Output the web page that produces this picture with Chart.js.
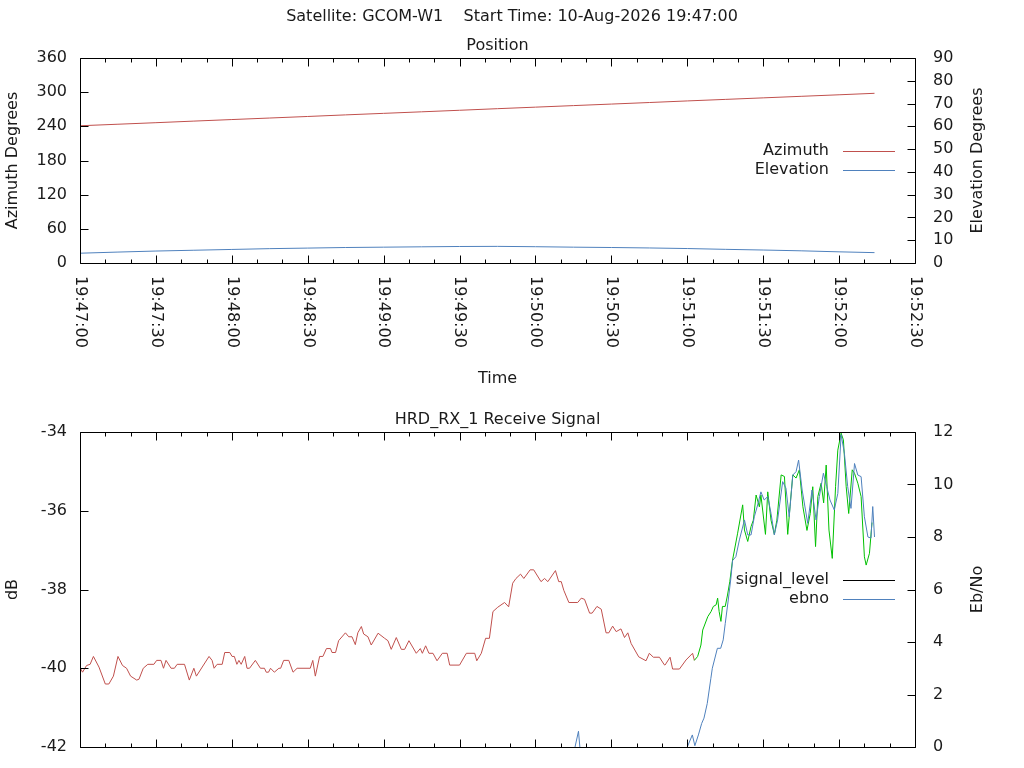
<!DOCTYPE html>
<html>
<head>
    <title>GCOM-W1 Pass Report</title>
    <script src="https://cdn.jsdelivr.net/npm/chart.js@4.4.1/dist/chart.umd.min.js"></script>
    <style>
        body {
            margin: 0;
            background: #fff;
        }
        canvas {
            position: absolute;
            left: 0;
        }
        #position { top: 0; }
        #signal { top: 400px; }
    </style>
</head>
<body>
    <canvas id="position" width="1024" height="400"></canvas>
    <canvas id="signal" width="1024" height="368"></canvas>

    <script>
        // time axis: seconds after 19:47:00, labelled every 30 s
        const timeTickLabels = ['19:47:00', '19:47:30', '19:48:00', '19:48:30', '19:49:00', '19:49:30',
                                '19:50:00', '19:50:30', '19:51:00', '19:51:30', '19:52:00', '19:52:30'];

        // Position panel
        const posTime = [0, 15, 30, 45, 60, 75, 90, 105, 120, 135, 150, 165, 180, 195, 210, 225, 240, 255, 270, 285, 300, 314];
        const azimuth = [241, 243.7, 246.4, 249.2, 251.9, 254.6, 257.3, 260.1, 262.8, 265.5, 268.2,
                         271, 273.7, 276.4, 279.1, 281.8, 284.6, 287.3, 290, 292.7, 295.4, 298];
        const elevation = [4.3, 4.8, 5.25, 5.6, 5.95, 6.3, 6.55, 6.8, 6.95, 7.1, 7.25,
                           7.3, 7.15, 6.95, 6.8, 6.6, 6.35, 6.0, 5.7, 5.35, 4.9, 4.55];

        // Receive signal panel: [seconds, dB]
        const signalLevel = [
            [0, -39.98], [1, -40.1], [2.6, -39.93], [4, -39.9], [5.3, -39.7], [7.5, -39.97], [10, -40.4], [11.4, -40.4],
            [13.2, -40.2], [15, -39.7], [16.8, -39.93], [18.4, -40.0], [20, -40.2], [22.4, -40.3], [23.3, -40.28], [25, -40.0],
            [26.8, -39.9], [29.2, -39.9], [30.3, -39.8], [32, -39.8], [33, -40.0], [34, -39.8], [36, -40.0], [37.3, -40.0],
            [38.4, -39.9], [41.3, -39.9], [43.2, -40.3], [45, -40.0], [46, -40.2], [51, -39.7], [52.2, -39.8], [53, -40.0],
            [54.2, -39.9], [56.2, -39.9], [57.2, -39.6], [59.2, -39.6], [60.1, -39.7], [61, -39.7], [62, -39.9], [62.8, -39.8],
            [63.7, -39.9], [65.1, -39.7], [66, -40.0], [67, -40.0], [69.3, -39.8], [71.3, -40.0], [72.9, -40.0], [73.6, -40.1],
            [74.5, -40.1], [75.3, -40.0], [76.8, -40.1], [78.6, -40.0], [79.3, -40.0], [80.5, -39.8], [82.5, -39.8], [84.2, -40.1],
            [85.8, -40.0], [91, -40.0], [92, -39.8], [93, -40.2], [94.7, -39.7], [96, -39.7], [97.4, -39.5], [99, -39.5],
            [99.6, -39.6], [101, -39.6], [102.2, -39.3], [104.9, -39.1], [106.2, -39.2], [107.5, -39.2], [108.8, -39.4], [109.8, -39.1],
            [111.2, -38.94], [112.1, -39.13], [113.8, -39.2], [115.1, -39.41], [117.8, -39.11], [120.4, -39.24], [121.7, -39.3], [123, -39.52],
            [125, -39.22], [127, -39.52], [128.3, -39.52], [130, -39.3], [132.9, -39.62], [134.5, -39.5], [135.3, -39.62], [136.6, -39.43],
            [137.9, -39.62], [139.5, -39.62], [141.1, -39.81], [143.2, -39.62], [145.1, -39.62], [146.1, -39.92], [150, -39.92], [152.7, -39.62],
            [156, -39.62], [156.8, -39.81], [158.6, -39.62], [160.3, -39.24], [161.8, -39.24], [163.2, -38.56], [165.1, -38.45], [167.8, -38.33],
            [169.4, -38.44], [171, -37.84], [172.3, -37.72], [174.1, -37.61], [175.4, -37.72], [177.9, -37.5], [179.3, -37.5], [182.2, -37.8],
            [183.6, -37.72], [184.9, -37.8], [187.9, -37.52], [189.2, -37.8], [190.2, -37.8], [191.2, -38.02], [193.2, -38.33], [196.7, -38.33],
            [198.1, -38.22], [199.4, -38.25], [201.4, -38.6], [202.4, -38.6], [204.3, -38.43], [206, -38.5], [207.9, -39.1], [209, -39.1],
            [210.5, -38.93], [211.9, -39.07], [213.8, -39.0], [215.2, -39.22], [216.5, -39.1], [217.8, -39.37], [220.8, -39.71], [223.7, -39.81],
            [225, -39.62], [226.6, -39.72], [229, -39.72], [230.9, -39.91], [231.2, -39.92], [233.2, -39.72], [234.2, -40.02], [236.9, -40.02],
            [239.5, -39.79], [242.1, -39.62], [242.8, -39.8], [244.1, -39.7], [245.4, -39.41], [246.1, -39.03], [248.1, -38.69], [249.4, -38.56],
            [250.3, -38.43], [251.4, -38.39], [252, -38.22], [252.6, -38.56], [253.3, -38.81], [253.9, -38.43], [255, -38.43], [255.9, -38.14],
            [256.8, -37.8], [257.9, -37.25], [259.9, -36.57], [261.9, -35.85], [262.6, -36.49], [263.9, -36.78], [265.2, -36.4], [266.1, -36.24],
            [267.2, -35.6], [268.5, -35.9], [269.1, -35.6], [270.9, -36.6], [271.8, -35.52], [273.1, -36.24], [274.4, -36.6], [275.4, -36.24],
            [277.1, -35.09], [278.4, -35.13], [279.7, -36.6], [280.6, -35.9], [281.7, -35.09], [283, -35.17], [284.3, -34.96], [285.7, -35.9],
            [287.3, -36.5], [288.6, -36.07], [289.6, -35.39], [290.7, -36.91], [291.6, -35.64], [292.9, -35.3], [293.9, -35.8], [294.9, -34.84],
            [296, -36.49], [297.3, -37.21], [298.6, -35.39], [299.5, -34.46], [300.8, -34.03], [301.7, -34.2], [302.8, -35.39], [303.8, -36.07],
            [305.2, -34.96], [306.1, -35.05], [307.4, -35.3], [308.7, -35.64], [310, -37.17], [310.7, -37.38], [312, -37.08], [313, -36.3]
        ];
        // carrier lock (line drawn green from here on)
        const LOCK_TIME = 242.8;

        // Eb/No: [seconds, value]; below 0 it is off the axis
        const ebno = [
            [0, -1.2], [40, -1.0], [80, -1.3], [120, -1.1], [160, -0.9], [194.5, -0.5], [197, 0.6], [198, -0.5],
            [239, -0.6], [240, 0], [242, 0.46], [243, 0.05], [244.4, 0.46], [245.7, 0.9], [246.6, 1.1], [247.9, 1.66],
            [249.3, 2.6], [249.9, 3.0], [251.9, 3.76], [253.2, 3.76], [254.2, 4.08], [255, 4.7], [256.2, 5.6], [257.2, 6.4],
            [257.9, 7.1], [259.2, 7.25], [260.6, 7.89], [262.6, 8.65], [263.9, 8.08], [265.2, 8.08], [266.5, 8.77], [267.8, 9.22],
            [269.1, 9.72], [270.4, 9.41], [271.8, 9.54], [273.1, 8.9], [274.4, 8.08], [275.7, 8.65], [277.7, 10.11], [279, 9.86],
            [280.3, 8.77], [281.7, 10.36], [283, 10.49], [284, 10.93], [285.4, 9.79], [287.6, 8.52], [289.3, 9.79], [290.9, 8.65],
            [292.2, 9.54], [293.8, 10.43], [295.1, 9.92], [296.4, 9.41], [298.1, 9.03], [299.5, 9.66], [300.8, 11.9], [302.1, 11.19],
            [303.4, 9.92], [304.7, 9.09], [306.1, 10.8], [307.4, 10.36], [308.7, 10.3], [310, 8.77], [311.4, 8.0], [312.6, 7.96],
            [313.3, 9.16], [314, 8.0]
        ];

        const RED = '#c0504d';
        const BLUE = '#4f81bd';
        const GREEN = '#00c000';
        const TEXT = '#1a1a1a';
        const FONT = "'DejaVu Sans', sans-serif";
        const FONT_SIZE = 16;

        Chart.defaults.font.family = FONT;
        Chart.defaults.font.size = FONT_SIZE;
        Chart.defaults.color = TEXT;

        // gnuplot look: boxed plot, inward ticks, rotated time labels, key on the right
        const gnuplotFrame = {
            id: 'gnuplotFrame',
            afterDatasetsDraw(chart, args, opts) {
                const { ctx, chartArea: a, scales } = chart;
                const L = Math.round(a.left) + 0.5, R = Math.round(a.right) + 0.5;
                const T = Math.round(a.top) + 0.5, B = Math.round(a.bottom) + 0.5;
                ctx.save();
                ctx.strokeStyle = '#000';
                ctx.lineWidth = 1;
                ctx.beginPath();
                ctx.rect(L, T, R - L, B - T);

                // x ticks on bottom and top, major every 30 s
                scales.x.ticks.forEach(t => {
                    const px = Math.round(scales.x.getPixelForValue(t.value)) + 0.5;
                    const len = t.value % 30 === 0 ? 8 : 4;
                    ctx.moveTo(px, B); ctx.lineTo(px, B - len);
                    ctx.moveTo(px, T); ctx.lineTo(px, T + len);
                });
                // y ticks pointing inwards
                ['y', 'y2'].forEach(id => {
                    const s = scales[id];
                    s.ticks.forEach(t => {
                        const py = Math.round(s.getPixelForValue(t.value)) + 0.5;
                        if (s.position === 'left') { ctx.moveTo(L, py); ctx.lineTo(L + 8, py); }
                        else { ctx.moveTo(R, py); ctx.lineTo(R - 8, py); }
                    });
                });
                ctx.stroke();

                ctx.fillStyle = TEXT;
                ctx.font = FONT_SIZE + 'px ' + FONT;
                ctx.textBaseline = 'middle';

                if (opts.timeLabels) {
                    ctx.textAlign = 'left';
                    scales.x.ticks.forEach(t => {
                        if (t.value % 30 !== 0) return;
                        ctx.save();
                        ctx.translate(scales.x.getPixelForValue(t.value), a.bottom + 13);
                        ctx.rotate(Math.PI / 2);
                        ctx.fillText(timeTickLabels[t.value / 30], 0, 0);
                        ctx.restore();
                    });
                }

                ctx.textAlign = 'center';
                const midX = (a.left + a.right) / 2, midY = (a.top + a.bottom) / 2;
                if (opts.mainTitle) ctx.fillText(opts.mainTitle, chart.width / 2, 17);
                ctx.fillText(opts.title, midX, a.top - 12);
                if (opts.xTitle) ctx.fillText(opts.xTitle, midX, a.bottom + 116);
                [[opts.yTitle, 13], [opts.y2Title, 978]].forEach(([text, x]) => {
                    ctx.save();
                    ctx.translate(x, midY);
                    ctx.rotate(-Math.PI / 2);
                    ctx.fillText(text, 0, 0);
                    ctx.restore();
                });

                // key
                ctx.textAlign = 'right';
                opts.key.items.forEach((item, i) => {
                    const y = opts.key.top + i * 19.5;
                    ctx.fillText(item.text, opts.key.right, y);
                    ctx.strokeStyle = item.color;
                    ctx.beginPath();
                    ctx.moveTo(opts.key.right + 14, Math.round(y) + 0.5);
                    ctx.lineTo(opts.key.right + 66, Math.round(y) + 0.5);
                    ctx.stroke();
                });
                ctx.restore();
            }
        };

        const hidden = { grid: { display: false, drawTicks: false }, border: { display: false } };

        const xScale = height => ({
            type: 'linear',
            min: 0,
            max: 330,
            ...hidden,
            ticks: { display: false, stepSize: 10 },
            afterFit: s => { s.height = height; }
        });

        // fixed axis widths; labels may overhang the plot edges like gnuplot's
        const yScale = (position, min, max, step) => ({
            type: 'linear',
            position: position,
            min: min,
            max: max,
            ...hidden,
            ticks: { stepSize: step, padding: position === 'left' ? 13 : 18 },
            afterFit: s => {
                s.width = position === 'left' ? 80 : 109;
                s.paddingTop = 0;
                s.paddingBottom = 0;
            }
        });

        const toPoints = (xs, ys) => xs.map((x, i) => ({ x: x, y: ys[i] }));
        const pairPoints = pairs => pairs.map(p => ({ x: p[0], y: p[1] }));

        new Chart(document.getElementById('position'), {
            type: 'line',
            data: {
                datasets: [
                    {
                        label: 'Azimuth',
                        data: toPoints(posTime, azimuth),
                        yAxisID: 'y',
                        borderColor: RED,
                        borderWidth: 1,
                        pointRadius: 0
                    },
                    {
                        label: 'Elevation',
                        data: toPoints(posTime, elevation),
                        yAxisID: 'y2',
                        borderColor: BLUE,
                        borderWidth: 1,
                        pointRadius: 0
                    }
                ]
            },
            options: {
                responsive: false,
                animation: false,
                layout: { padding: { top: 58, left: 0, right: 0, bottom: 0 } },
                plugins: {
                    legend: { display: false },
                    tooltip: { enabled: false },
                    gnuplotFrame: {
                        mainTitle: 'Satellite: GCOM-W1    Start Time: 10-Aug-2026 19:47:00',
                        title: 'Position',
                        xTitle: 'Time',
                        yTitle: 'Azimuth Degrees',
                        y2Title: 'Elevation Degrees',
                        timeLabels: true,
                        key: { right: 829, top: 150.5, items: [
                            { text: 'Azimuth', color: RED },
                            { text: 'Elevation', color: BLUE }
                        ] }
                    }
                },
                scales: {
                    x: xScale(137),
                    y: yScale('left', 0, 360, 60),
                    y2: yScale('right', 0, 90, 10)
                }
            },
            plugins: [gnuplotFrame]
        });

        new Chart(document.getElementById('signal'), {
            type: 'line',
            data: {
                datasets: [
                    {
                        label: 'signal_level',
                        data: pairPoints(signalLevel),
                        yAxisID: 'y',
                        borderColor: RED,
                        borderWidth: 1,
                        pointRadius: 0,
                        order: 1,
                        segment: {
                            borderColor: c => c.p0.parsed.x >= LOCK_TIME ? GREEN : RED
                        }
                    },
                    {
                        label: 'ebno',
                        data: pairPoints(ebno),
                        yAxisID: 'y2',
                        borderColor: BLUE,
                        borderWidth: 1,
                        pointRadius: 0,
                        order: 0
                    }
                ]
            },
            options: {
                responsive: false,
                animation: false,
                layout: { padding: { top: 32, left: 0, right: 0, bottom: 0 } },
                plugins: {
                    legend: { display: false },
                    tooltip: { enabled: false },
                    gnuplotFrame: {
                        title: 'HRD_RX_1 Receive Signal',
                        yTitle: 'dB',
                        y2Title: 'Eb/No',
                        timeLabels: false,
                        key: { right: 829, top: 579.5 - 400, items: [
                            { text: 'signal_level', color: '#000' },
                            { text: 'ebno', color: BLUE }
                        ] }
                    }
                },
                scales: {
                    x: xScale(21),
                    y: yScale('left', -42, -34, 2),
                    y2: yScale('right', 0, 12, 2)
                }
            },
            plugins: [gnuplotFrame]
        });
    </script>
</body>
</html>
